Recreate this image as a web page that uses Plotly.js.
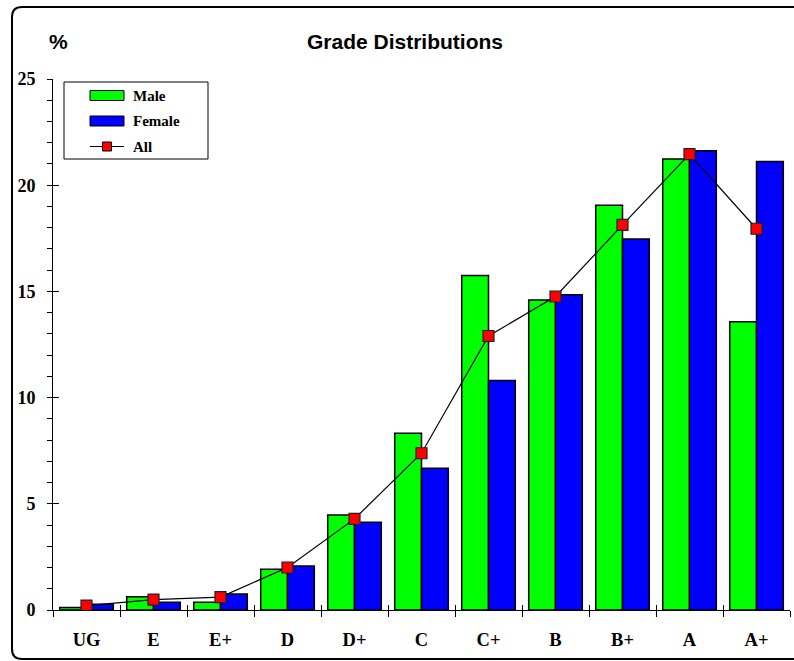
<!DOCTYPE html>
<html>
<head>
<meta charset="utf-8">
<script src="https://cdn.plot.ly/plotly-3.0.1.min.js"></script>
<style>html,body{margin:0;padding:0;background:#fff;}#chart{width:794px;height:661px;}</style>
</head>
<body>
<div id="chart"></div>
<script>
// ---- data ----
const grades = ['UG','E','E+','D','D+','C','C+','B','B+','A','A+'];
const male   = [0.12,0.62,0.37,1.92,4.47,8.32,15.75,14.60,19.06,21.23,13.57];
const female = [0.27,0.36,0.75,2.07,4.13,6.67,10.80,14.84,17.47,21.62,21.12];
const allStudents = [0.21,0.49,0.61,2.00,4.29,7.38,12.90,14.76,18.13,21.46,17.95];
const seriesNames = ['Male','Female','All'];
const yTicks = [0,5,10,15,20,25];

// ---- layout helpers (pixel -> paper) ----
const L = 53, R = 4, T = 79, B = 51, W = 794, H = 661;
const PW = W - L - R, PH = H - T - B;
function px(x){ return (x - L) / PW; }
function py(y){ return (H - B - y) / PH; }

const serif = 'Liberation Serif, Times New Roman, serif';
const sans = 'Liberation Sans, Arial, sans-serif';

const traces = [
  {type:'bar', name:seriesNames[0], x:grades, y:male,
   marker:{color:'#00ff00', line:{color:'#000', width:1.5}}, showlegend:false, hoverinfo:'x+y'},
  {type:'bar', name:seriesNames[1], x:grades, y:female,
   marker:{color:'#0000ff', line:{color:'#000', width:1.5}}, showlegend:false, hoverinfo:'x+y'},
  {type:'scatter', mode:'lines+markers', name:seriesNames[2], x:grades, y:allStudents,
   line:{color:'#000', width:1.2},
   marker:{symbol:'square', size:11, color:'#ff0000', line:{color:'#222', width:1.2}}, showlegend:false},
  {type:'scatter', x:[], y:[], xaxis:'x2', yaxis:'y2', showlegend:false, hoverinfo:'skip'}
];

const outer = `M ${px(800)},${py(7)} L ${px(22)},${py(7)} Q ${px(12)},${py(7)} ${px(12)},${py(17)} L ${px(12)},${py(649)} Q ${px(12)},${py(659)} ${px(22)},${py(659)} L ${px(800)},${py(659)}`;

const shapes = [
  {type:'path', xref:'paper', yref:'paper', path:outer, line:{color:'#000', width:2}, layer:'below'},
  {type:'rect', xref:'paper', yref:'paper', x0:px(64), x1:px(208), y0:py(159), y1:py(82), fillcolor:'#fff', line:{color:'#000', width:1}, layer:'above'},
  {type:'rect', xref:'paper', yref:'paper', x0:px(90), x1:px(124), y0:py(100.5), y1:py(90.5), fillcolor:'#00ff00', line:{color:'#000', width:1}, layer:'above'},
  {type:'rect', xref:'paper', yref:'paper', x0:px(90), x1:px(124), y0:py(126), y1:py(116), fillcolor:'#0000ff', line:{color:'#000', width:1}, layer:'above'},
  {type:'line', xref:'paper', yref:'paper', x0:px(90), x1:px(124), y0:py(146.5), y1:py(146.5), line:{color:'#000', width:1}, layer:'above'},
  {type:'rect', xref:'paper', yref:'paper', x0:px(102.5), x1:px(111.5), y0:py(151), y1:py(142), fillcolor:'#ff0000', line:{color:'#000', width:1}, layer:'above'}
];

const legendY = [95.5, 121, 146.5];
const annotations = seriesNames.map((n,i)=>({
  xref:'paper', yref:'paper', x:px(131), y:py(legendY[i]), xanchor:'left', yanchor:'middle',
  text:n, showarrow:false, font:{family:serif, size:15, color:'#000', weight:'bold'}
}));
annotations.push({xref:'paper', yref:'paper', x:px(58.5), y:py(42), xanchor:'center', yanchor:'middle',
  text:'%', showarrow:false, font:{family:sans, size:21, color:'#000', weight:'bold'}});

const layout = {
  width:W, height:H,
  margin:{l:L, r:R, t:T, b:B, pad:0},
  paper_bgcolor:'#fff', plot_bgcolor:'#fff',
  title:{text:'Grade Distributions', xref:'paper', x:px(405), xanchor:'center',
         yref:'container', y:1 - 42/H, yanchor:'middle',
         font:{family:sans, size:21, color:'#000', weight:'bold'}},
  barmode:'group', bargap:0.2, bargroupgap:0,
  showlegend:false,
  xaxis:{type:'category', categoryarray:grades, range:[-0.5,10.5], fixedrange:true,
         showline:true, linecolor:'#000', linewidth:1, showgrid:false, zeroline:false,
         ticks:'outside', tickson:'boundaries', ticklen:6, tickcolor:'#000', tickwidth:1,
         ticklabelstandoff:13,
         tickfont:{family:serif, size:18.5, color:'#000', weight:'bold'}},
  yaxis:{range:[0,25], fixedrange:true, tickvals:yTicks,
         showline:true, linecolor:'#000', linewidth:1, showgrid:false, zeroline:false,
         ticks:'outside', ticklen:5, tickcolor:'#000', tickwidth:1,
         ticklabelstandoff:8,
         minor:{dtick:1, ticks:'outside', ticklen:5, tickcolor:'#000', tickwidth:1, showgrid:false},
         tickfont:{family:serif, size:18, color:'#000', weight:'bold'}},
  xaxis2:{overlaying:'x', anchor:'y2', range:[-0.5,10.5], fixedrange:true,
          tickvals:[-0.5,0.5,1.5,2.5,3.5,4.5,5.5,6.5,7.5,8.5,9.5,10.5],
          ticks:'inside', ticklen:5, tickcolor:'#000', tickwidth:1,
          showticklabels:false, showline:false, showgrid:false, zeroline:false},
  yaxis2:{overlaying:'y', anchor:'x2', range:[0,25], fixedrange:true, tickvals:yTicks,
          ticks:'inside', ticklen:6, tickcolor:'#000', tickwidth:1,
          showticklabels:false, showline:false, showgrid:false, zeroline:false},
  shapes:shapes,
  annotations:annotations
};

Plotly.newPlot('chart', traces, layout, {displayModeBar:false, staticPlot:true});
</script>
</body>
</html>
